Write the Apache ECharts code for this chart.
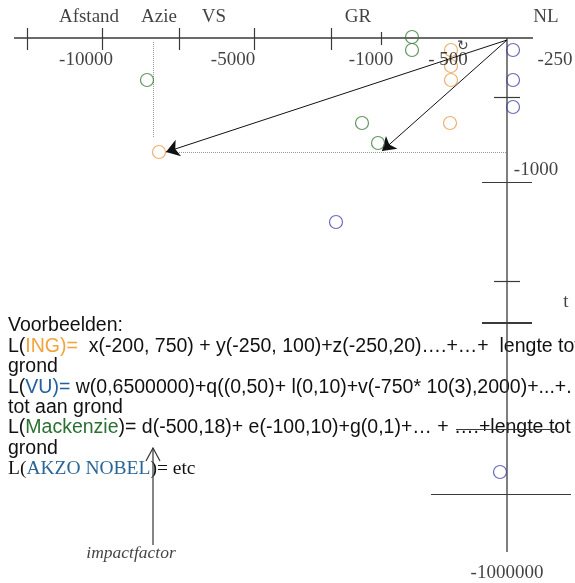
<!DOCTYPE html>
<html><head><meta charset="utf-8">
<script src="https://cdn.jsdelivr.net/npm/echarts@6/dist/echarts.min.js"></script>
<style>html,body{margin:0;padding:0;background:#fff;overflow:hidden}#c{width:575px;height:583px}</style>
</head><body><div id="c"></div>
<script>
// Diagram units: x 0..575 (left to right), y 0..583 (top to bottom)
const hAxis = [[14, 38], [533, 38]];
const vAxis = [[507, 38], [507, 552]];
const xTickPos = [27, 102, 179, 254, 331, 381];
const xTickLong = [true, true, true, true, true, false];
const xTickLabels = ['-10000', '-5000', '-1000', '- 500', '-250'];
const xTickLabelPos = [86, 233, 371, 448, 555];
const xTopLabels = ['Afstand', 'Azie', 'VS', 'GR', 'NL'];
const xTopLabelPos = [89, 159, 214, 358, 546];
const yTicks = [[97, 494, 520], [182, 482, 532], [281, 494, 520], [323, 482, 532], [429, 456, 558], [494, 431, 571]];
const yLabels = [['-1000', 536, 170], ['t', 566, 302], ['-1000000', 507, 573]];
const ingPoints = [[451, 50], [451, 66], [451, 80], [450, 123], [159, 152]];
const mackenziePoints = [[412, 37], [412, 50], [147, 80], [362, 123], [378, 143]];
const vuPoints = [[513, 50], [513, 80], [513, 107], [336, 222], [500, 472]];
const arrows = [[[507, 40], [166, 152]], [[507, 40], [382, 151]]];
const dotted = [[[153, 42], [153, 138]], [[175, 152], [507, 152]]];
const impactArrow = [[153, 545], [153, 448]];
const impactHead = [[146, 461], [153, 448], [160, 461]];

const chart = echarts.init(document.getElementById('c'), null, {renderer: 'canvas'});
const serif = '"Liberation Serif", "Times New Roman", serif';
const sans = '"Liberation Sans", Arial, sans-serif';
const axisColor = '#3a3a3a';

const tickLines = xTickPos.map((x, i) => ({coords: xTickLong[i] ? [[x, 28], [x, 50]] : [[x, 32], [x, 45]]}))
  .concat(yTicks.map(t => ({coords: [[t[1], t[0]], [t[2], t[0]]], lineStyle: {width: t[0] === 323 ? 2 : 1.2}})));

function labelSeries(items, font, size, style) {
  return {
    type: 'scatter', symbolSize: 0, silent: true, z: 5,
    data: items.map(it => ({name: it[0], value: [it[1], it[2]]})),
    label: {show: true, position: 'inside', formatter: p => p.name, color: '#111',
      fontFamily: font, fontSize: size, fontStyle: style || 'normal'}
  };
}

function circles(data, color) {
  return {type: 'scatter', data: data, symbol: 'circle', symbolSize: 13, z: 4,
    itemStyle: {color: 'rgba(255,255,255,0)', borderColor: color, borderWidth: 1.2}};
}

const option = {
  animation: false,
  grid: {left: 0, right: 0, top: 0, bottom: 0},
  xAxis: {type: 'value', min: 0, max: 575, show: false},
  yAxis: {type: 'value', min: 0, max: 583, inverse: true, show: false},
  series: [
    {type: 'lines', coordinateSystem: 'cartesian2d', polyline: true, silent: true, z: 2,
      lineStyle: {color: axisColor, width: 1.3, opacity: 1},
      data: [{coords: hAxis}, {coords: vAxis}]},
    {type: 'lines', coordinateSystem: 'cartesian2d', polyline: false, silent: true, z: 2,
      lineStyle: {color: axisColor, width: 1.2, opacity: 1}, data: tickLines},
    {type: 'lines', coordinateSystem: 'cartesian2d', silent: true, z: 2,
      lineStyle: {color: '#999', width: 1, type: [1, 1], opacity: 1},
      data: dotted.map(c => ({coords: c}))},
    {type: 'lines', coordinateSystem: 'cartesian2d', silent: true, z: 3,
      symbol: ['none', 'arrow'], symbolSize: [0, 13],
      lineStyle: {color: '#111', width: 1, opacity: 1},
      data: arrows.map(c => ({coords: c}))},
    {type: 'lines', coordinateSystem: 'cartesian2d', polyline: true, silent: true, z: 3,
      lineStyle: {color: '#333', width: 1.2, opacity: 1},
      data: [{coords: impactArrow}, {coords: impactHead}]},
    circles(ingPoints, '#ee9a4a'),
    circles(mackenziePoints, '#3c7a3c'),
    circles(vuPoints, '#4646a8'),
    labelSeries(xTickLabels.map((t, i) => [t, xTickLabelPos[i], 60]), serif, 19),
    labelSeries(xTopLabels.map((t, i) => [t, xTopLabelPos[i], 17]), serif, 19),
    labelSeries(yLabels, serif, 19),
    labelSeries([['impactfactor', 131, 553]], serif, 17.5, 'italic'),
    labelSeries([['\u21bb', 463, 46]], sans, 14)
  ],
  graphic: (function () {
    const x = 8, lh = 20.4, y0 = 326;
    const lines = [
      '{k|Voorbeelden:}',
      '{k|L(}{o|ING)=}{k|  x(-200, 750) + y(-250, 100)+z(-250,20)\u2026.+\u2026+  lengte tot aan}',
      '{k|grond}',
      '{k|L(}{b|VU)=}{k| w(0,6500000)+q((0,50)+ l(0,10)+v(-750* 10(3),2000)+...+.}',
      '{k|tot aan grond}',
      '{k|L(}{g|Mackenzie}{k|)= d(-500,18)+ e(-100,10)+g(0,1)+\u2026 + \u2026.+lengte tot}',
      '{k|grond}',
      '{s|L(}{sb|AKZO NOBEL}{s|)= etc}'
    ];
    const fs = 19.5;
    const rich = {
      k: {fontFamily: sans, fontSize: fs, fill: '#111'},
      o: {fontFamily: sans, fontSize: fs, fill: '#f2a33a'},
      b: {fontFamily: sans, fontSize: fs, fill: '#22609e'},
      g: {fontFamily: sans, fontSize: fs, fill: '#2a7030'},
      s: {fontFamily: serif, fontSize: 19.5, fill: '#111'},
      sb: {fontFamily: serif, fontSize: 19.5, fill: '#2b6696'}
    };
    return lines.map((t, i) => ({
      type: 'text', x: x, y: y0 + i * lh, z: 1, silent: true,
      style: {text: t, rich: rich, verticalAlign: 'middle', align: 'left'}
    }));
  })()
};
chart.setOption(option);
</script></body></html>
